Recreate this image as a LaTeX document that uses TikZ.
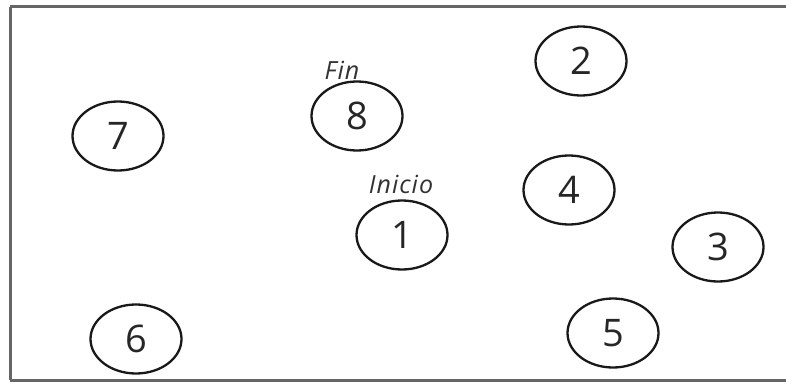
\documentclass[tikz,border=0pt]{standalone}
\usepackage{fontspec}
\setmainfont{Open Sans}
\usetikzlibrary{shapes.geometric}
\tikzset{
  station/.style={ellipse, draw=black!90, line width=2.3pt, minimum width=91pt, minimum height=69pt, inner sep=0pt, font=\fontsize{38}{40}\selectfont, text=black!85},
  tag/.style={font=\itshape\fontsize{25}{28}\selectfont\addfontfeature{LetterSpace=4}, text=black!80, inner sep=0pt},
  frame/.style={draw=black!60, line width=3pt}
}
\begin{document}
\begin{tikzpicture}[x=1pt,y=-1pt]
\useasboundingbox (0,0) rectangle (786,385);
\draw[frame] (10,7) -- (790,7);
\draw[frame] (10,7) -- (10,380);
\draw[frame] (10,380) -- (790,380);
\node[station] (n2) at (581,61) {2};
\node[station] (n8) at (357,116) {8};
\node[station] (n7) at (118,136) {7};
\node[station] (n4) at (569,190) {4};
\node[station] (n1) at (402,235) {1};
\node[station] (n3) at (718,247) {3};
\node[station] (n6) at (136,339) {6};
\node[station] (n5) at (613,333) {5};
\node[tag] (fin) at (342,70) {Fin};
\node[tag] (inicio) at (401,184) {Inicio};
\end{tikzpicture}
\end{document}
